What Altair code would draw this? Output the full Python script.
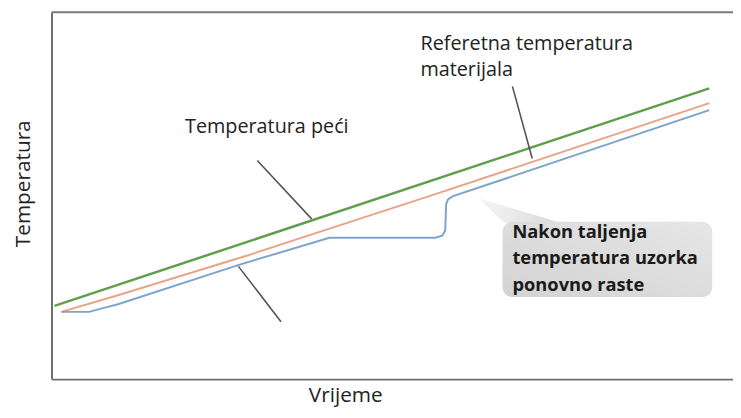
import altair as alt
import pandas as pd

# ---- data (arbitrary units: time 0..689, temperature 0..371) ----
green_x = [3, 665]
green_y = [74, 294]

orange_x = [10, 68, 198, 385, 665]
orange_y = [68, 85, 125, 186, 279]

blue_x = [10, 38, 53, 68, 191, 281, 388, 395, 398, 399, 401, 406, 448, 665]
blue_y = [68, 68, 72, 76, 116, 143, 143, 145, 150, 177, 182, 185, 199, 272]

# leader lines (start/end)
lead_x = [208, 466, 189]
lead_y = [221, 296, 114]
lead_x2 = [263, 486, 232]
lead_y2 = [162, 223, 58]

# labels
label_text = ["Temperatura peći", "Referetna temperatura", "materijala"]
label_x = [135, 373, 373]
label_y = [249, 333, 306]

# callout box
box_x, box_x2, box_y, box_y2 = [456], [668], [159], [83]
wedge_x = [431, 458, 515]
wedge_y = [183, 175, 158]
wedge_y2 = [183, 158, 158]
callout_text = ["Nakon taljenja", "temperatura uzorka", "ponovno raste"]
callout_x = [466, 466, 466]
callout_y = [143, 116, 89]

X_MAX, Y_MAX = 689, 371

xs = alt.Scale(domain=[0, X_MAX], nice=False, zero=False)
ys = alt.Scale(domain=[0, Y_MAX], nice=False, zero=False)
FONT = "Open Sans"

x_axis = alt.Axis(
    ticks=False, labels=False, grid=False,
    domainColor="#6e6e6e", domainWidth=2,
    titleFont=FONT, titleFontSize=21, titleFontWeight="normal", titleColor="#222222",
    titleX=297, titleY=23, titleBaseline="alphabetic", titleAlign="center")
y_axis = alt.Axis(
    ticks=False, labels=False, grid=False,
    domainColor="#6e6e6e", domainWidth=2,
    titleFont=FONT, titleFontSize=21, titleFontWeight="normal", titleColor="#222222",
    titleX=-22, titleY=173, titleBaseline="alphabetic", titleAlign="center", titleAngle=270)

def X(f):
    return alt.X(f, type="quantitative", scale=xs, axis=x_axis, title="Vrijeme")

def Y(f):
    return alt.Y(f, type="quantitative", scale=ys, axis=y_axis, title="Temperatura")

green_df = pd.DataFrame({"x": green_x, "y": green_y})
orange_df = pd.DataFrame({"x": orange_x, "y": orange_y})
blue_df = pd.DataFrame({"x": blue_x, "y": blue_y})
lead_df = pd.DataFrame({"x": lead_x, "y": lead_y, "x2": lead_x2, "y2": lead_y2})
label_df = pd.DataFrame({"t": label_text, "x": label_x, "y": label_y})
box_df = pd.DataFrame({"x": box_x, "x2": box_x2, "y": box_y, "y2": box_y2})
wedge_df = pd.DataFrame({"x": wedge_x, "y": wedge_y, "y2": wedge_y2})
callout_df = pd.DataFrame({"t": callout_text, "x": callout_x, "y": callout_y})
top_df = pd.DataFrame({"x": [0], "x2": [X_MAX], "y": [Y_MAX]})

green = alt.Chart(green_df).mark_line(color="#5e9f4d", strokeWidth=2.5).encode(x=X("x"), y=Y("y"))

top_rule = alt.Chart(top_df).mark_rule(color="#7a7a7a", strokeWidth=2).encode(
    x=X("x"), x2="x2", y=Y("y"))

orange = alt.Chart(orange_df).mark_line(color="#e9a488", strokeWidth=2).encode(x=X("x"), y=Y("y"))
blue = alt.Chart(blue_df).mark_line(color="#7ea3cc", strokeWidth=2).encode(x=X("x"), y=Y("y"))

leaders = alt.Chart(lead_df).mark_rule(color="#555555", strokeWidth=1.6).encode(
    x=X("x"), y=Y("y"), x2="x2", y2="y2")

labels = alt.Chart(label_df).mark_text(
    align="left", baseline="alphabetic", font=FONT, fontSize=20, color="#222222"
).encode(x=X("x"), y=Y("y"), text="t:N")

wedge = alt.Chart(wedge_df).mark_area(
    color=alt.Gradient(gradient="linear", x1=0, y1=0, x2=1, y2=0,
                       stops=[alt.GradientStop(color="#f5f5f5", offset=0),
                              alt.GradientStop(color="#dadada", offset=1)])
).encode(x=X("x"), y=Y("y"), y2="y2")

box = alt.Chart(box_df).mark_rect(
    cornerRadius=10,
    color=alt.Gradient(gradient="linear", x1=0, y1=1, x2=1, y2=0,
                       stops=[alt.GradientStop(color="#d3d3d3", offset=0),
                              alt.GradientStop(color="#e6e6e6", offset=1)])
).encode(x=X("x"), x2="x2", y=Y("y"), y2="y2")

callout = alt.Chart(callout_df).mark_text(
    align="left", baseline="alphabetic", font=FONT, fontSize=18.5, fontWeight="bold", color="#1a1a1a"
).encode(x=X("x"), y=Y("y"), text="t:N")

chart = alt.layer(
    green, top_rule, wedge, box, orange, blue, leaders, labels, callout
).properties(
    width=X_MAX, height=Y_MAX,
    autosize=alt.AutoSizeParams(type="none"),
    padding={"left": 44, "top": 2, "right": 0, "bottom": 29},
    background="white",
).configure_view(stroke=None)

chart.save("out.html", embed_options={"renderer": "svg", "actions": False})
